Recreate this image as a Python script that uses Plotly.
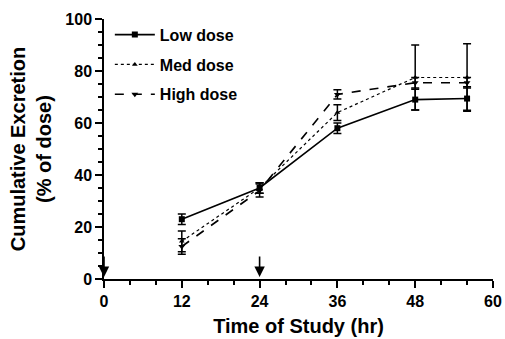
import plotly.graph_objects as go

times = [12, 24, 36, 48, 56]
low_dose = [23, 35, 58, 69, 69.4]
low_err = [2, 2, 2, 4, 4.5]
med_dose = [14.5, 35, 64, 77.5, 77.5]
med_err = [4, 2, 3, 12.5, 13]
high_dose = [12.5, 34, 71, 75.5, 75.5]
high_err = [3, 2.5, 1.8, 2, 2]
dose_times = [0, 24]
x_ticks = [0, 12, 24, 36, 48, 60]
y_ticks = [0, 20, 40, 60, 80, 100]

FONT = "Liberation Sans, Arial, sans-serif"

fig = go.Figure()

series = [
    ("Low dose", low_dose, low_err, "solid", 1.6, "square", 6),
    ("Med dose", med_dose, med_err, "dot", 1.2, "triangle-up", 5),
    ("High dose", high_dose, high_err, "dash", 1.6, "triangle-down", 6),
]
for name, vals, errs, dash, lw, sym, ms in series:
    fig.add_trace(go.Scatter(
        x=times, y=vals, name=name, mode="lines+markers",
        legendgroup=name,
        line=dict(color="black", width=lw, dash=dash),
        marker=dict(symbol=sym, size=ms, color="black"),
        error_y=dict(type="data", array=errs, visible=True,
                     color="black", thickness=1.5, width=4),
    ))

for t in dose_times:
    fig.add_annotation(x=t, y=0, xref="x", yref="y", ax=0, ay=-24,
                       showarrow=True, arrowhead=2, arrowsize=1.3,
                       arrowwidth=1.6, arrowcolor="black", text="", standoff=2)

fig.update_layout(
    width=505, height=339,
    margin=dict(l=104, r=12, t=19, b=60, autoexpand=False),
    paper_bgcolor="white", plot_bgcolor="white",
    font=dict(family=FONT, color="black", size=16, weight="bold"),
    showlegend=True,
    legend=dict(x=0.015, y=1.005, xanchor="left", yanchor="top",
                bgcolor="rgba(0,0,0,0)", tracegroupgap=6, itemwidth=40,
                font=dict(family=FONT, size=16, weight="bold")),
)
fig.update_xaxes(
    range=[0, 60], tickvals=x_ticks, showgrid=False, zeroline=False,
    automargin=False,
    showline=True, linecolor="black", linewidth=1.5,
    ticks="outside", ticklen=7, tickwidth=1.5, tickcolor="black",
    minor=dict(dtick=4, ticks="outside", ticklen=4, tickwidth=1.5, tickcolor="black"),
    tickfont=dict(family=FONT, size=16, weight="bold"),
    title=dict(text="Time of Study (hr)", font=dict(family=FONT, size=20, weight="bold"), standoff=10),
)
fig.update_yaxes(
    range=[0, 100], tickvals=y_ticks, showgrid=False, zeroline=False,
    automargin=False,
    showline=True, linecolor="black", linewidth=1.5,
    ticks="outside", ticklen=7, tickwidth=1.5, tickcolor="black",
    minor=dict(dtick=5, ticks="outside", ticklen=4, tickwidth=1.5, tickcolor="black"),
    tickfont=dict(family=FONT, size=16, weight="bold"),
    title=dict(text="Cumulative Excretion<br>(% of dose)", font=dict(family=FONT, size=20, weight="bold"), standoff=8),
)

fig.write_html("out.html", config={"displayModeBar": False},
               post_script="document.body.style.margin='0';document.body.style.overflow='hidden';")
